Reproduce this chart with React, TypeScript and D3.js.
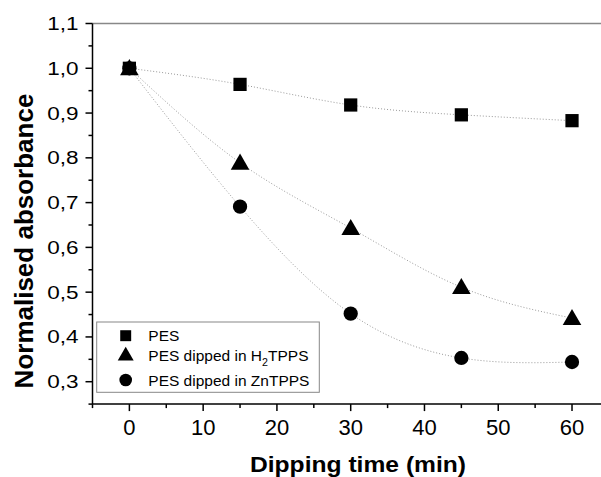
import React, { useRef, useEffect } from 'react';
import * as d3 from 'd3';

// dipping time (min)
const times = [0, 15, 30, 45, 60];

// normalised absorbance per sample
const pes = [1.0, 0.964, 0.918, 0.896, 0.883];
const pesH2 = [1.0, 0.789, 0.643, 0.511, 0.442];
const pesZn = [1.0, 0.691, 0.452, 0.353, 0.344];

const xTicks = [0, 10, 20, 30, 40, 50, 60];
const xMinor = [-5, 5, 15, 25, 35, 45, 55, 65];
const yTicks = [0.3, 0.4, 0.5, 0.6, 0.7, 0.8, 0.9, 1.0, 1.1];
const yMinor = [0.25, 0.35, 0.45, 0.55, 0.65, 0.75, 0.85, 0.95, 1.05];

const FONT = "'Liberation Sans', Arial, sans-serif";

const App = () => {
  const ref = useRef<SVGSVGElement>(null);

  useEffect(() => {
    const width = 601;
    const height = 477;

    const x = d3.scaleLinear().domain([-5, 65]).range([92.5, 608.9]);
    const y = d3.scaleLinear().domain([0.25, 1.1]).range([404.1, 23.5]);

    const svg = d3.select(ref.current).attr('width', width).attr('height', height);
    svg.selectAll('*').remove();

    svg.append('rect').attr('width', width).attr('height', height).attr('fill', 'white');

    // top frame
    svg.append('line')
      .attr('x1', x(-5)).attr('x2', width)
      .attr('y1', y(1.1)).attr('y2', y(1.1))
      .attr('stroke', '#888').attr('stroke-width', 1.5);

    // fit curves
    const line = d3.line<number>()
      .x((d, i) => x(times[i]))
      .y((d) => y(d))
      .curve(d3.curveNatural);

    [pes, pesH2, pesZn].forEach((s) => {
      svg.append('path')
        .attr('fill', 'none')
        .attr('stroke', '#9a9a9a')
        .attr('stroke-width', 1)
        .attr('stroke-dasharray', '1,2')
        .attr('d', line(s));
    });

    // markers
    const circle = d3.symbol(d3.symbolCircle, 160);
    const square = d3.symbol(d3.symbolSquare, 175);
    const triangle = d3.symbol(d3.symbolTriangle, 150);

    svg.selectAll(null).data(pesZn).enter().append('path')
      .attr('d', circle)
      .attr('transform', (d, i) => `translate(${x(times[i])},${y(d)})`)
      .attr('fill', 'black');

    svg.selectAll(null).data(pes).enter().append('path')
      .attr('d', square)
      .attr('transform', (d, i) => `translate(${x(times[i])},${y(d)})`)
      .attr('fill', 'black');

    svg.selectAll(null).data(pesH2).enter().append('path')
      .attr('d', triangle)
      .attr('transform', (d, i) => `translate(${x(times[i])},${y(d) + 1.5})`)
      .attr('fill', 'black');

    // x axis
    const xAxis = svg.append('g').attr('transform', `translate(0,${y(0.25)})`);
    xAxis.append('line')
      .attr('x1', x(-5)).attr('x2', width).attr('stroke', 'black').attr('stroke-width', 1.5);
    xAxis.selectAll(null).data(xTicks).enter().append('line')
      .attr('x1', (d) => x(d)).attr('x2', (d) => x(d))
      .attr('y1', 0).attr('y2', 7)
      .attr('stroke', 'black').attr('stroke-width', 1.5);
    xAxis.selectAll(null).data(xMinor).enter().append('line')
      .attr('x1', (d) => x(d)).attr('x2', (d) => x(d))
      .attr('y1', 0).attr('y2', 4)
      .attr('stroke', 'black').attr('stroke-width', 1.5);
    xAxis.selectAll(null).data(xTicks).enter().append('text')
      .attr('x', (d) => x(d)).attr('y', 31)
      .attr('text-anchor', 'middle')
      .attr('font-family', FONT).attr('font-size', 22)
      .text((d) => d);

    // y axis
    const yAxis = svg.append('g').attr('transform', `translate(${x(-5)},0)`);
    yAxis.append('line')
      .attr('y1', y(1.1)).attr('y2', y(0.25)).attr('stroke', 'black').attr('stroke-width', 1.5);
    yAxis.selectAll(null).data(yTicks).enter().append('line')
      .attr('y1', (d) => y(d)).attr('y2', (d) => y(d))
      .attr('x1', 0).attr('x2', -7)
      .attr('stroke', 'black').attr('stroke-width', 1.5);
    yAxis.selectAll(null).data(yMinor).enter().append('line')
      .attr('y1', (d) => y(d)).attr('y2', (d) => y(d))
      .attr('x1', 0).attr('x2', -4)
      .attr('stroke', 'black').attr('stroke-width', 1.5);
    yAxis.selectAll(null).data(yTicks).enter().append('text')
      .attr('transform', (d) => `translate(-14,${y(d) + 6.5}) scale(1.25,1)`)
      .attr('text-anchor', 'end')
      .attr('font-family', FONT).attr('font-size', 18)
      .text((d) => d3.format('.1f')(d).replace('.', ','));

    // axis titles
    svg.append('text')
      .attr('transform', `translate(358,472) scale(1.12,1)`)
      .attr('text-anchor', 'middle')
      .attr('font-family', FONT).attr('font-size', 22).attr('font-weight', 'bold')
      .text('Dipping time (min)');

    svg.append('text')
      .attr('transform', `translate(33,241) rotate(-90)`)
      .attr('text-anchor', 'middle')
      .attr('font-family', FONT).attr('font-size', 26).attr('font-weight', 'bold')
      .text('Normalised absorbance');

    // legend
    const legend = svg.append('g');
    legend.append('rect')
      .attr('x', 96.7).attr('y', 322).attr('width', 222.6).attr('height', 70.3)
      .attr('fill', 'white').attr('stroke', '#888').attr('stroke-width', 1);

    const items = [
      { sym: d3.symbol(d3.symbolSquare, 120), ly: 335.7, dy: 0 },
      { sym: d3.symbol(d3.symbolTriangle, 110), ly: 355, dy: 1 },
      { sym: d3.symbol(d3.symbolCircle, 125), ly: 380, dy: 0 },
    ];
    items.forEach((it) => {
      legend.append('path')
        .attr('d', it.sym)
        .attr('transform', `translate(125.7,${it.ly + it.dy})`)
        .attr('fill', 'black');
    });

    const lt = (yy: number) => legend.append('text')
      .attr('transform', `translate(148.3,${yy}) scale(1.07,1)`)
      .attr('font-family', FONT).attr('font-size', 14.5);

    lt(341).text('PES');
    const t2 = lt(361);
    t2.append('tspan').text('PES dipped in H');
    t2.append('tspan').attr('font-size', 10).attr('dy', 5).text('2');
    t2.append('tspan').attr('dy', -5).text('TPPS');
    lt(385.5).text('PES dipped in ZnTPPS');
  }, []);

  return (
    <svg ref={ref} width={601} height={477} style={{ position: 'absolute', left: 0, top: 0 }} />
  );
};

export default App;
